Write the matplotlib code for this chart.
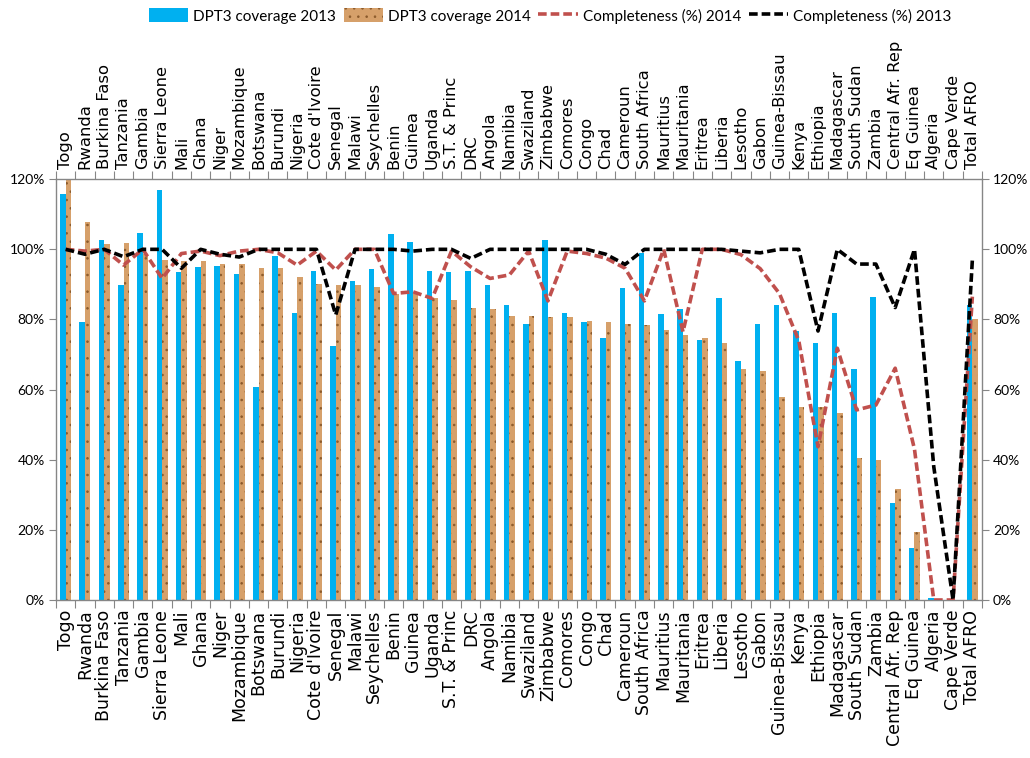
import matplotlib
matplotlib.use("Agg")
import matplotlib.pyplot as plt
import numpy as np
from matplotlib.lines import Line2D
from matplotlib.patches import Patch

countries = ["Togo", "Rwanda", "Burkina Faso", "Tanzania", "Gambia", "Sierra Leone", "Mali",
             "Ghana", "Niger", "Mozambique", "Botswana", "Burundi", "Nigeria", "Cote d'Ivoire",
             "Senegal", "Malawi", "Seychelles", "Benin", "Guinea", "Uganda", "S.T. & Princ", "DRC",
             "Angola", "Namibia", "Swaziland", "Zimbabwe", "Comores", "Congo", "Chad", "Cameroun",
             "South Africa", "Mauritius", "Mauritania", "Eritrea", "Liberia", "Lesotho", "Gabon",
             "Guinea-Bissau", "Kenya", "Ethiopia", "Madagascar", "South Sudan", "Zambia",
             "Central Afr. Rep", "Eq Guinea", "Algeria", "Cape Verde", "Total AFRO"]

dpt3_2013 = [115.7, 79.2, 102.7, 89.8, 104.6, 116.9, 93.5, 94.9, 95.2, 93.0, 60.8, 98.1,
             81.9, 93.9, 72.3, 91.1, 94.4, 104.5, 102.2, 93.9, 93.4, 93.9, 89.8, 84.2,
             78.8, 102.7, 81.9, 79.2, 74.6, 88.9, 99.0, 81.5, 82.9, 74.1, 86.2, 68.1,
             78.7, 84.1, 76.8, 73.2, 81.8, 65.8, 86.5, 27.7, 14.8, 0.7, 0.0, 84.1]

dpt3_2014 = [121.0, 107.8, 101.5, 101.7, 98.6, 97.1, 96.7, 96.7, 95.7, 95.7, 94.8, 94.8,
             92.1, 90.2, 89.8, 89.8, 89.3, 87.4, 87.4, 86.0, 85.6, 83.3, 82.9, 81.0,
             81.0, 80.6, 80.6, 79.6, 79.2, 78.8, 78.3, 76.9, 75.5, 74.6, 73.2, 65.8,
             65.3, 58.0, 55.1, 55.1, 53.4, 40.5, 40.0, 31.7, 19.3, 0.0, 0.0, 80.0]

compl_2014 = [100, 99.5, 100, 95.5, 100, 91.7, 98.8, 99.5, 98.2, 99.5, 100, 99,
              95.5, 99.5, 94.1, 100, 100, 87.4, 87.9, 86.0, 99.5, 95.0, 91.7, 92.7,
              99.5, 85.3, 99.5, 98.8, 97.5, 94.6, 85.3, 100, 76.5, 100, 100, 98.5,
              94.5, 87.4, 74.0, 43.7, 71.8, 54.2, 55.6, 66.1, 43.0, 0, 0, 86.5]

compl_2013 = [100, 98.6, 100, 97.9, 100, 100, 94.6, 100, 98.6, 97.8, 100, 100,
              100, 100, 81.3, 100, 100, 100, 99.5, 100, 100, 97.4, 100, 100,
              100, 100, 100, 100, 98.6, 95.7, 100, 100, 100, 100, 100, 99.5,
              99.0, 100, 100, 76.7, 100, 95.8, 95.8, 83.4, 100, 38.0, 0, 97.0]

yticks = [0, 20, 40, 60, 80, 100, 120]
ytick_labels = ["0%", "20%", "40%", "60%", "80%", "100%", "120%"]

plt.rcParams['font.family'] = ['Lato', 'DejaVu Sans']
plt.rcParams['hatch.linewidth'] = 0.6

BLUE = "#00B0F0"
CORK = "#D6A06A"
CORK_DOT = "#8B5A2B"
RED = "#C0504D"
GREY = "#868686"

fig = plt.figure(figsize=(10.30, 7.58), dpi=100)
ax = fig.add_axes([56/1030, 1 - 600/758, (982-56)/1030, (600-179.2)/758])

n = len(countries)
x = np.arange(n)
w = 0.285
ax.bar(x - w/2, dpt3_2013, width=w, color=BLUE, linewidth=0, zorder=2)
ax.bar(x + w/2, dpt3_2014, width=w, color=CORK, edgecolor=CORK_DOT, hatch='..',
       linewidth=0, zorder=2)

ls = (0, (2.4, 1.1))
ax.plot(x, compl_2014, color=RED, lw=2.6, linestyle=ls, zorder=3)
ax.plot(x, compl_2013, color="black", lw=2.6, linestyle=ls, zorder=4)

ax.set_xlim(-0.5, n - 0.5)
ax.set_ylim(0, 120)

for s in ax.spines.values():
    s.set_color(GREY)
    s.set_linewidth(1.0)

# x ticks: major at boundaries (marks only), minor at centres (labels)
ax.set_xticks(np.arange(-0.5, n, 1.0))
ax.set_xticklabels([])
ax.set_xticks(x, minor=True)
ax.set_xticklabels(countries, minor=True)
ax.tick_params(axis='x', which='major', direction='out', length=6, color=GREY,
               top=True, bottom=True)
ax.tick_params(axis='x', which='minor', length=0, top=True, bottom=True,
               labeltop=True, labelbottom=True, labelrotation=90, pad=7)
for t in ax.xaxis.get_minor_ticks():
    t.label1.set_fontfamily('DejaVu Sans')
    t.label1.set_fontsize(12.5)
    t.label2.set_fontfamily('DejaVu Sans')
    t.label2.set_fontsize(11.8)

ax.set_yticks(yticks)
ax.set_yticklabels(ytick_labels)
ax.tick_params(axis='y', direction='out', length=5, color=GREY, left=True, right=True,
               labelleft=True, labelright=True, labelsize=10, pad=3)

handles = [Patch(facecolor=BLUE, linewidth=0),
           Patch(facecolor=CORK, edgecolor=CORK_DOT, hatch='..', linewidth=0),
           Line2D([0], [0], color=RED, lw=2.6, linestyle=ls),
           Line2D([0], [0], color="black", lw=2.6, linestyle=ls)]
labels = ["DPT3 coverage 2013", "DPT3 coverage 2014", "Completeness (%) 2014",
          "Completeness (%) 2013"]
fig.legend(handles, labels, loc='center', bbox_to_anchor=(550/1030, 1 - 16/758), ncol=4,
           frameon=False, fontsize=11, handlelength=2.6, handleheight=1.0,
           handletextpad=0.3, columnspacing=0.5, borderpad=0)

fig.savefig("out.png", dpi=100)
